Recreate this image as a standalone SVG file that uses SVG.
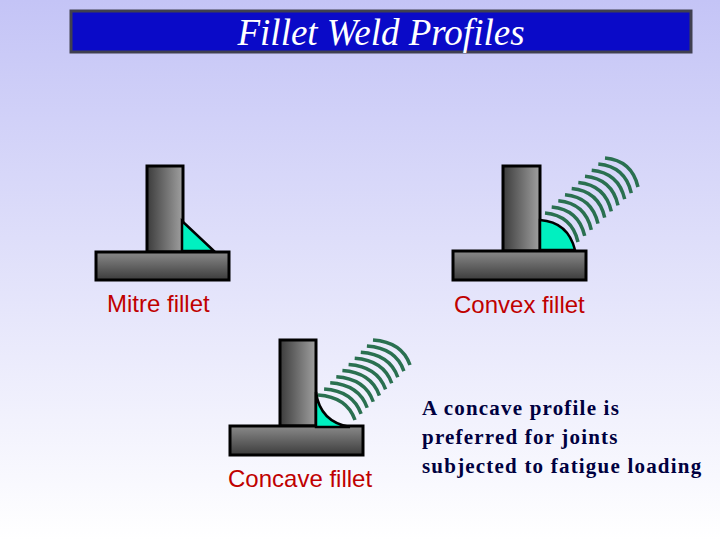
<svg xmlns="http://www.w3.org/2000/svg" width="720" height="540" viewBox="0 0 720 540">
<defs>
<linearGradient id="bg" x1="0" y1="0" x2="0" y2="1"><stop offset="0" stop-color="#c4c4f6"/><stop offset="1" stop-color="#ffffff"/></linearGradient>
<linearGradient id="vg" x1="0" y1="0" x2="1" y2="0"><stop offset="0" stop-color="#3c3c3c"/><stop offset="1" stop-color="#a0a0a0"/></linearGradient>
<linearGradient id="hg" x1="0" y1="0" x2="0" y2="1"><stop offset="0" stop-color="#8a8a8a"/><stop offset="1" stop-color="#3c3c3c"/></linearGradient>
<path id="arcA" d="M0,0 Q27,2.5 33,29"/>
<path id="arcB" d="M0,0 Q29,2 37,25"/>
</defs>
<style>
.v{fill:url(#vg);stroke:#000;stroke-width:3}
.h{fill:url(#hg);stroke:#000;stroke-width:3}
.w{fill:#00f0c0;stroke:#000;stroke-width:2.5}
.arc{fill:none;stroke:#2a7050;stroke-width:3.5}
.lbl{font-family:"Liberation Sans",Arial,sans-serif;font-size:24px;fill:#c00000}
.note{font-family:"Liberation Serif","Times New Roman",serif;font-size:21px;font-weight:bold;fill:#000040;letter-spacing:1.2px}
</style>
<rect width="720" height="540" fill="url(#bg)"/>
<g id="title">
<rect x="71" y="11" width="620" height="41" fill="#0a0ac8" stroke="#404050" stroke-width="3"/>
<text x="381" y="45" text-anchor="middle" font-family="Liberation Serif,serif" font-style="italic" font-size="37" fill="#fff">Fillet Weld Profiles</text>
</g>
<g id="mitre">
<rect class="v" x="147" y="166" width="36" height="86"/>
<rect class="h" x="96" y="252" width="133" height="28"/>
<path class="w" d="M182,221 L214,251 L182,251 Z"/>
<text class="lbl" x="107" y="312">Mitre fillet</text>
</g>
<g id="convex">
<rect class="v" x="503" y="166" width="37" height="85"/>
<rect class="h" x="453" y="251" width="133" height="29"/>
<path class="w" d="M540,250 L540,220 Q568,222 575,250 Z"/>
<g class="arc">
<use href="#arcA" x="545" y="213"/><use href="#arcA" x="551.7" y="206.9"/><use href="#arcA" x="558.3" y="200.8"/><use href="#arcA" x="565" y="194.7"/><use href="#arcA" x="571.7" y="188.6"/><use href="#arcA" x="578.3" y="182.4"/><use href="#arcA" x="585" y="176.3"/><use href="#arcA" x="591.7" y="170.2"/><use href="#arcA" x="598.3" y="164.1"/><use href="#arcA" x="605" y="158"/>
</g>
<text class="lbl" x="454" y="313">Convex fillet</text>
</g>
<g id="concave">
<rect class="v" x="280" y="340" width="36" height="86"/>
<rect class="h" x="230" y="426" width="133" height="29"/>
<path class="w" d="M316,392 Q320,422 350,427 L316,427 Z"/>
<g class="arc">
<use href="#arcB" x="318" y="395"/><use href="#arcB" x="324.1" y="388.9"/><use href="#arcB" x="330.2" y="382.8"/><use href="#arcB" x="336.3" y="376.7"/><use href="#arcB" x="342.4" y="370.6"/><use href="#arcB" x="348.6" y="364.4"/><use href="#arcB" x="354.7" y="358.3"/><use href="#arcB" x="360.8" y="352.2"/><use href="#arcB" x="366.9" y="346.1"/><use href="#arcB" x="373" y="340"/>
</g>
<text class="lbl" x="228" y="487">Concave fillet</text>
</g>
<g id="note">
<text class="note" x="422" y="415">A concave profile is</text>
<text class="note" x="422" y="444">preferred for joints</text>
<text class="note" x="422" y="473">subjected to fatigue loading</text>
</g>
</svg>
